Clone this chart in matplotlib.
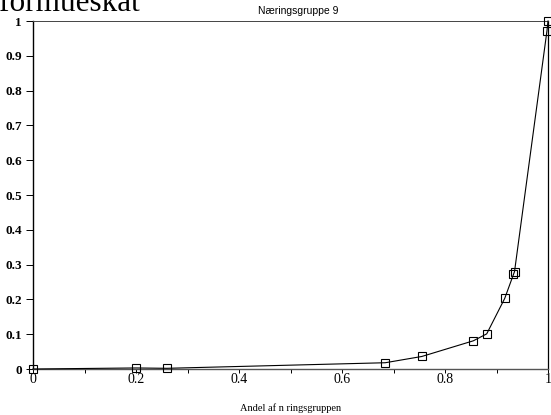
import matplotlib
matplotlib.use("Agg")
import matplotlib.pyplot as plt
from matplotlib.ticker import MultipleLocator, FixedLocator

# Cumulative share of wealth tax vs. share of the industry group
andel = [0.0, 0.2, 0.26, 0.684, 0.755, 0.855, 0.881, 0.916, 0.933, 0.935, 0.998, 1.0]
skat = [0.0, 0.003, 0.002, 0.018, 0.036, 0.081, 0.101, 0.203, 0.272, 0.28, 0.972, 1.0]

x_ticks = [0, 0.2, 0.4, 0.6, 0.8, 1]
x_labels = ["0", "0.2", "0.4", "0.6", "0.8", "1"]
y_ticks = [0, 0.1, 0.2, 0.3, 0.4, 0.5, 0.6, 0.7, 0.8, 0.9, 1]
y_labels = ["0", "0.1", "0.2", "0.3", "0.4", "0.5", "0.6", "0.7", "0.8", "0.9", "1"]

fig = plt.figure(figsize=(5.51, 4.15), dpi=100)
ax = fig.add_axes([33 / 551, 46 / 415, 515 / 551, 348 / 415])

ax.plot(andel, skat, color="black", linewidth=0.8, marker="s", markersize=5.5,
        markerfacecolor="none", markeredgecolor="black", markeredgewidth=0.8,
        clip_on=False, zorder=3)

ax.set_xlim(0, 1)
ax.set_ylim(0, 1)

serif = ["Liberation Serif", "DejaVu Serif"]
ax.xaxis.set_major_locator(FixedLocator(x_ticks))
ax.set_xticklabels(x_labels, fontfamily=serif, fontsize=10)
ax.xaxis.set_minor_locator(MultipleLocator(0.1))
ax.yaxis.set_major_locator(FixedLocator(y_ticks))
ax.set_yticklabels(y_labels, fontfamily=serif, fontsize=9.5, fontweight="bold")

ax.tick_params(axis="x", which="both", direction="out", length=3, width=0.7,
               pad=0, colors="black")
ax.tick_params(axis="y", which="major", direction="out", length=5, width=0.7,
               pad=3, colors="black")

for side in ["left", "bottom"]:
    ax.spines[side].set_linewidth(1.0)
ax.spines["top"].set_linewidth(0.7)
ax.spines["top"].set_color("#444444")
ax.spines["right"].set_linewidth(0.9)
ax.spines["bottom"].set_color("#555555")

ax.set_xlabel("Andel af n ringsgruppen", fontfamily=serif, fontsize=7.5, labelpad=12)
fig.text(298 / 551, 1 - 11 / 415, "Næringsgruppe 9", fontfamily="Liberation Sans",
         fontsize=7.5, ha="center", va="center")
fig.text(-0.002, 1 - 11 / 415, "formueskat", fontfamily=serif, fontsize=22.5,
         ha="left", va="baseline")

fig.savefig("out.png", dpi=100)
